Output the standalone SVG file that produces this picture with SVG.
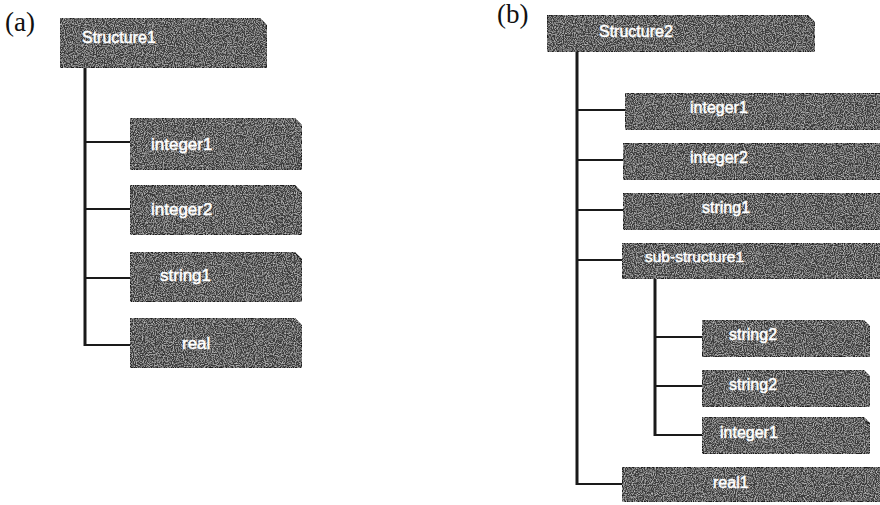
<svg xmlns="http://www.w3.org/2000/svg" width="880" height="505" viewBox="0 0 880 505">
  <defs>
    <filter id="grain" x="0" y="0" width="100%" height="100%">
      <feTurbulence type="fractalNoise" baseFrequency="0.9" numOctaves="2" seed="3" result="n"/>
      <feColorMatrix in="n" type="matrix" values="0 0 0 0 1  0 0 0 0 1  0 0 0 0 1  1.2 0 0 0 -0.5" result="w"/>
      <feComposite in="w" in2="SourceGraphic" operator="in" result="wm"/>
      <feMerge><feMergeNode in="SourceGraphic"/><feMergeNode in="wm"/></feMerge>
    </filter>
  </defs>
  <style>
    .box { fill: #3a3a3a; stroke: #151515; stroke-width: 1.5; filter: url(#grain); }
    .lbl { font-family: "Liberation Sans", Arial, sans-serif; font-size: 16px; fill: #ffffff; stroke: #ffffff; stroke-width: 0.5; }
    .big { font-size: 17px; }
    .cap { font-family: "Liberation Serif", "Times New Roman", serif; font-size: 27px; fill: #111111; }
    .trunk { stroke: #1a1a1a; stroke-width: 3; fill: none; }
    .branch { stroke: #1a1a1a; stroke-width: 2; fill: none; }
  </style>
  <rect width="880" height="505" fill="#ffffff"/>

  <text class="cap" x="5" y="31">(a)</text>
  <text class="cap" x="497" y="23">(b)</text>

  <g id="connectors">
    <!-- (a) -->
    <line class="trunk" x1="85" y1="67" x2="85" y2="346"/>
    <line class="branch" x1="85" y1="142" x2="131" y2="142"/>
    <line class="branch" x1="85" y1="209" x2="131" y2="209"/>
    <line class="branch" x1="85" y1="278" x2="131" y2="278"/>
    <line class="branch" x1="84" y1="345" x2="131" y2="345"/>
    <!-- (b) -->
    <line class="trunk" x1="577" y1="51" x2="577" y2="485"/>
    <line class="branch" x1="577" y1="110" x2="626" y2="110"/>
    <line class="branch" x1="577" y1="160" x2="624" y2="160"/>
    <line class="branch" x1="577" y1="210" x2="624" y2="210"/>
    <line class="branch" x1="577" y1="260" x2="623" y2="260"/>
    <line class="branch" x1="576" y1="484" x2="623" y2="484"/>
    <line class="trunk" x1="655" y1="278" x2="655" y2="436"/>
    <line class="branch" x1="655" y1="337" x2="703" y2="337"/>
    <line class="branch" x1="655" y1="386" x2="703" y2="386"/>
    <line class="branch" x1="654" y1="435" x2="703" y2="435"/>
  </g>

  <!-- (a) nodes -->
  <g id="structure1">
    <path class="box" d="M60,18 H259 L267,26 V68 H64 Q60,68 60,64 Z"/>
    <text class="lbl" x="82" y="43">Structure1</text>
  </g>
  <g id="a-integer1">
    <path class="box" d="M130,118 H294 L302,126 V166 Q302,170 298,170 H134 Q130,170 130,166 Z"/>
    <text class="lbl big" x="151" y="150">integer1</text>
  </g>
  <g id="a-integer2">
    <path class="box" d="M130,185 H294 L302,193 V231 Q302,235 298,235 H134 Q130,235 130,231 Z"/>
    <text class="lbl big" x="151" y="215">integer2</text>
  </g>
  <g id="a-string1">
    <path class="box" d="M130,252 H294 L302,260 V298 Q302,302 298,302 H134 Q130,302 130,298 Z"/>
    <text class="lbl big" x="160" y="281">string1</text>
  </g>
  <g id="a-real">
    <path class="box" d="M130,318 H294 L302,326 V364 Q302,368 298,368 H134 Q130,368 130,364 Z"/>
    <text class="lbl big" x="182" y="349">real</text>
  </g>

  <!-- (b) nodes -->
  <g id="structure2">
    <path class="box" d="M547,15 H807 L815,23 V52 H551 Q547,52 547,48 Z"/>
    <text class="lbl" x="599" y="37">Structure2</text>
  </g>
  <g id="b-integer1">
    <path class="box" d="M625,93 H890 V130 H629 Q625,130 625,126 Z"/>
    <text class="lbl" x="690" y="113">integer1</text>
  </g>
  <g id="b-integer2">
    <path class="box" d="M623,143 H890 V180 H627 Q623,180 623,176 Z"/>
    <text class="lbl" x="690" y="163">integer2</text>
  </g>
  <g id="b-string1">
    <path class="box" d="M623,193 H890 V230 H627 Q623,230 623,226 Z"/>
    <text class="lbl" x="702" y="213">string1</text>
  </g>
  <g id="b-substructure1">
    <path class="box" d="M622,243 H890 V279 H626 Q622,279 622,275 Z"/>
    <text class="lbl" x="645" y="262" style="font-size:15.5px">sub-structure1</text>
  </g>
  <g id="b-string2a">
    <path class="box" d="M702,320 H863 L870,327 V357 H706 Q702,357 702,353 Z"/>
    <text class="lbl" x="729" y="340">string2</text>
  </g>
  <g id="b-string2b">
    <path class="box" d="M702,370 H863 L870,377 V403 Q870,407 866,407 H706 Q702,407 702,403 Z"/>
    <text class="lbl" x="729" y="390">string2</text>
  </g>
  <g id="b-integer1-sub">
    <path class="box" d="M702,417 H863 L870,424 V450 Q870,454 866,454 H706 Q702,454 702,450 Z"/>
    <text class="lbl" x="720" y="438">integer1</text>
  </g>
  <g id="b-real1">
    <path class="box" d="M622,467 H890 V502 H626 Q622,502 622,498 Z"/>
    <text class="lbl" x="713" y="488">real1</text>
  </g>
</svg>
